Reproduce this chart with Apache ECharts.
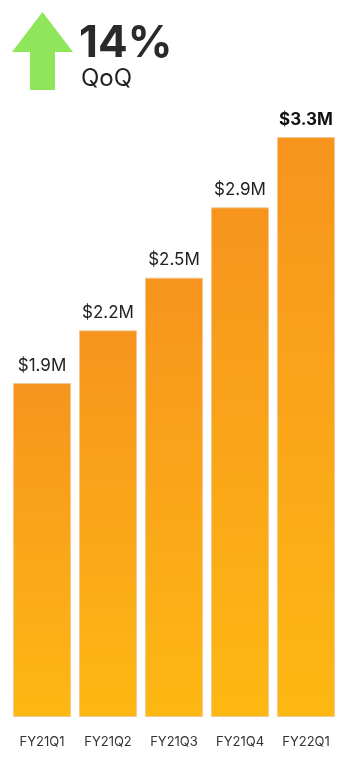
<!DOCTYPE html>
<html>
<head>
<meta charset="utf-8">
<script src="https://cdn.jsdelivr.net/npm/echarts@6/dist/echarts.min.js"></script>
<style>
  html, body { margin: 0; padding: 0; background: #fff; }
  #chart { width: 346px; height: 757px; }
</style>
</head>
<body>
<div id="chart"></div>
<script>
// Quarterly revenue, in millions of dollars
const quarters = ['FY21Q1', 'FY21Q2', 'FY21Q3', 'FY21Q4', 'FY22Q1'];
const revenue = [1.9, 2.2, 2.5, 2.9, 3.3];
const headline = '14%';
const headlineSub = 'QoQ';

const FONT = 'Inter, Lato, sans-serif';

const chart = echarts.init(document.getElementById('chart'), null, { renderer: 'canvas' });

const barFill = new echarts.graphic.LinearGradient(0, 0, 0, 1, [
  { offset: 0, color: '#F7941E' },
  { offset: 1, color: '#FDB813' }
]);

chart.setOption({
  animation: false,
  grid: { left: 9, right: 7, top: 14, bottom: 40 },
  xAxis: {
    type: 'category',
    data: quarters,
    axisLine: { show: false },
    axisTick: { show: false },
    axisLabel: { color: '#333', fontSize: 13, fontFamily: FONT, margin: 19 }
  },
  yAxis: {
    type: 'value',
    min: 0,
    max: 4,
    show: false,
    splitLine: { show: false }
  },
  series: [{
    type: 'bar',
    data: revenue.map((v, i) => ({
      value: v,
      label: i === revenue.length - 1 ? { fontWeight: 'bold', color: '#111' } : {}
    })),
    barCategoryGap: '12%',
    itemStyle: {
      color: barFill,
      borderColor: 'rgba(240,200,150,0.9)',
      borderWidth: 1
    },
    label: {
      show: true,
      position: 'top',
      distance: 9,
      fontSize: 17,
      fontFamily: FONT,
      color: '#222',
      formatter: p => '$' + p.value.toFixed(1) + 'M'
    }
  }],
  graphic: [
    {
      type: 'polygon',
      shape: {
        points: [[42.5, 12], [73, 52], [55, 52], [55, 90], [30, 90], [30, 52], [12, 52]]
      },
      style: { fill: '#8FE65A' }
    },
    {
      type: 'text',
      x: 79,
      y: 44,
      style: { text: headline, font: 'bold 44px ' + FONT, fill: '#2a2a2a', verticalAlign: 'middle' }
    },
    {
      type: 'text',
      x: 81,
      y: 79,
      style: { text: headlineSub, font: '24px ' + FONT, fill: '#222', verticalAlign: 'middle' }
    }
  ]
});
</script>
</body>
</html>
